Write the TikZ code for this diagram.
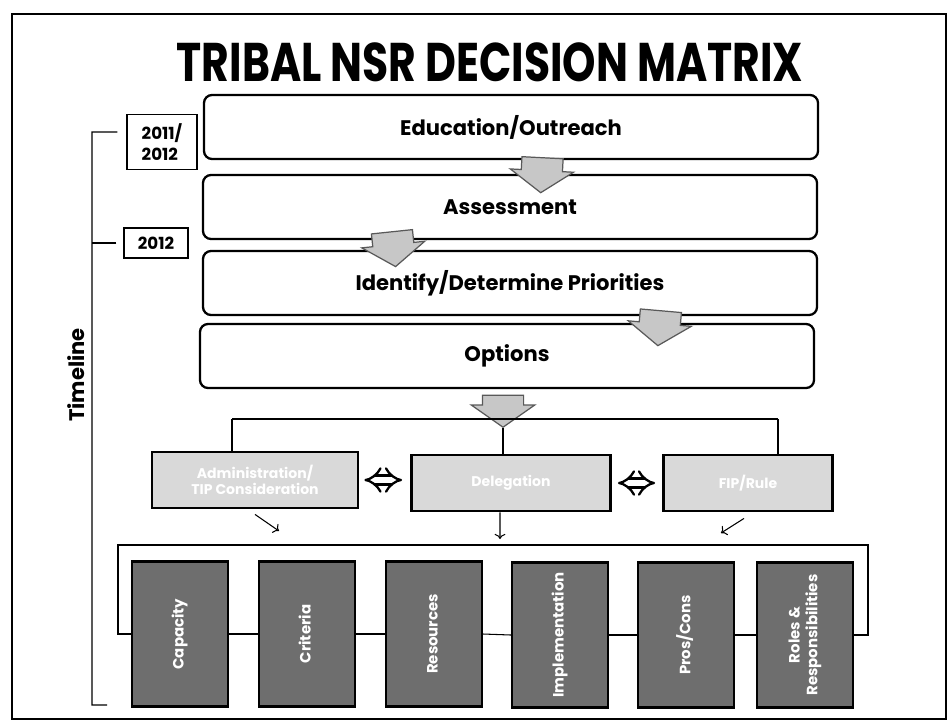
\documentclass[tikz,border=0pt]{standalone}
\usepackage{fontspec}
\setmainfont{Poppins}
\newfontfamily\titlefont[FakeStretch=0.78]{Poppins}
\usetikzlibrary{shapes.arrows,arrows.meta,calc}

\newcommand{\vtext}[1]{\rotatebox{90}{\begin{tabular}{@{}c@{}}#1\end{tabular}}}

\begin{document}
\begin{tikzpicture}[x=0.2mm,y=-0.2mm,
	stage/.style={draw,line width=1.3pt,rounded corners=1.6mm,fill=white,minimum width=122.8mm,minimum height=12.8mm,font=\bfseries\fontsize{12}{14}\selectfont},
	stagearrow/.style={single arrow,draw=black!65,fill=black!22,line width=0.7pt,rotate=-90,inner xsep=0pt,inner ysep=4mm,single arrow head extend=2.2mm,single arrow tip angle=110,minimum height=7mm},
	yearbox/.style={draw,line width=0.7pt,align=left,inner sep=1.6mm,font=\bfseries\fontsize{9.5}{12}\selectfont},
	optbox/.style={draw,line width=1.6pt,fill=black!15,minimum height=11.2mm,align=center,text=white,font=\bfseries\fontsize{8}{9.5}\selectfont},
	factor/.style={draw,line width=1.2pt,fill=black!57,minimum width=19.2mm,minimum height=29mm,text=white,font=\bfseries\fontsize{8.5}{10}\selectfont},
	dblarrow/.style={double,double distance=1.3mm,line width=1.3pt,{Implies}-{Implies}},
	thin/.style={line width=0.6pt}]
	\useasboundingbox (0,0) rectangle (950,725);
	\draw[line width=1pt] (12,14) rectangle (946,719);

	\node[font=\titlefont\bfseries\fontsize{31}{33}\selectfont] (title) at (490,62) {TRIBAL NSR DECISION MATRIX};

	\node[stage] (edu) at (511,127) {Education/Outreach};
	\node[stage] (ass) at (510,207) {Assessment};
	\node[stage] (pri) at (510,283) {Identify/Determine Priorities};
	\node[stage] (opt) at (507,356) {Options};
	\node[stagearrow,rotate=-3] (a1) at (542,168) {};
	\node[stagearrow,rotate=6] (a2) at (393,242) {};
	\node[stagearrow,rotate=-5] (a3) at (660,321) {};
	\node[stagearrow,minimum height=6.4mm] (a4) at (503,404) {};

	\node[yearbox,minimum width=14mm,minimum height=11mm] (yrA) at (162,142) {2011/\\2012};
	\node[yearbox,minimum width=12.8mm,minimum height=6mm] (yrB) at (156,243) {2012};
	\node[rotate=90,font=\bfseries\fontsize{12}{14}\selectfont] (tl) at (76,375) {Timeline};
	\coordinate (tlt) at (92,132);
	\coordinate (tlb) at (107,705);
	\draw[thin] ([xshift=-1.8mm,yshift=2mm]yrA.west) -- (tlt) |- (tlb);
	\draw[thin] ([xshift=-1.4mm]yrB.west) -- (tlt |- yrB.west);

	\node[optbox,minimum width=41.2mm] (lft) at (255,480) {Administration/\\TIP Consideration};
	\node[optbox,minimum width=39.8mm] (mid) at (511,483) {Delegation};
	\node[optbox,minimum width=33.8mm] (rgt) at (748,483) {FIP/Rule};
	\coordinate (brl) at (232,419);
	\coordinate (brr) at (778,419);
	\draw[thin] (brl) -- (brr);
	\draw[thin] (a4.tip) -- (a4.tip |- mid.north);
	\draw[thin] (brl) -- (brl |- lft.north);
	\draw[thin] (brr) -- (brr |- rgt.north);
	\draw[dblarrow] ([xshift=1mm]lft.east) -- ([xshift=-1.6mm]lft.east -| mid.west);
	\draw[dblarrow] ([xshift=1.2mm]mid.east) -- ([xshift=-1.4mm]mid.east -| rgt.west);

	\coordinate (pl) at (279,531);
	\coordinate (pm) at (500,539);
	\coordinate (pr) at (721,533);
	\draw[thin,->] ([yshift=-1mm]lft.south) -- (pl);
	\draw[thin,->] ([xshift=-2.2mm]mid.south) -- (pm);
	\draw[thin,->] ([xshift=-0.8mm,yshift=-1.2mm]rgt.south) -- (pr);

	\node[factor] (cap) at (180,634) {\vtext{Capacity}};
	\node[factor] (cri) at (307,634) {\vtext{Criteria}};
	\node[factor] (res) at (434,634) {\vtext{Resources}};
	\node[factor] (imp) at (560,635) {\vtext{Implementation}};
	\node[factor] (pro) at (686,635) {\vtext{Pros/Cons}};
	\node[factor] (rol) at (805,635) {\vtext{Roles \&\\Responsibilities}};
	\coordinate (bkl) at (118,545);
	\coordinate (bkr) at (868,545);
	\draw[thin] (cap.west) -| (bkl) -- (bkr) |- (rol.east);
	\draw[thin] (cap.east) -- (cri.west);
	\draw[thin] (cri.east) -- (res.west);
	\draw[thin] (res.east) -- (imp.west);
	\draw[thin] (imp.east) -- (pro.west);
	\draw[thin] (pro.east) -- (rol.west);
\end{tikzpicture}
\end{document}
